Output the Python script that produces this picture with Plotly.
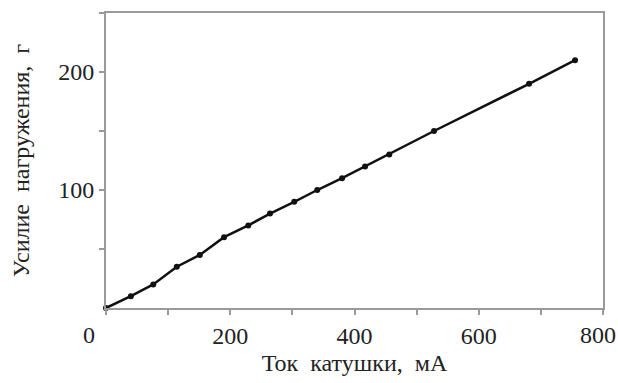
import plotly.graph_objects as go

current_ma = [0, 40, 76, 114, 151, 190, 229, 264, 303, 340, 380, 417, 456, 528, 681, 755]
load_g = [0, 10, 20, 35, 45, 60, 70, 80, 90, 100, 110, 120, 130, 150, 190, 210]

x_tick_positions = [0, 100, 200, 300, 400, 500, 600, 700, 800]
x_ticktext = ["", "", "200", "", "400", "", "600", "", ""]
y_tick_positions = [50, 100, 150, 200, 250]
y_ticktext = ["", "100", "", "200", ""]
# end labels drawn as annotations (offset like in the original figure)
edge_labels = [(0, "0", -17), (800, "800", -5)]

FONT = "Liberation Serif, Times New Roman, serif"
TXT = "#222222"

fig = go.Figure()
fig.add_trace(go.Scatter(
    x=current_ma, y=load_g, mode="lines+markers",
    line=dict(color="#111111", width=2.5),
    marker=dict(color="#111111", size=6),
    showlegend=False, cliponaxis=False,
))

axis_common = dict(
    showgrid=False, zeroline=False, showline=True, linecolor="#9a9a9a",
    linewidth=2, mirror=True, ticks="outside", tickcolor="#9a9a9a",
    ticklen=5, tickwidth=1.5, automargin=False, ticklabeloverflow="allow",
    tickfont=dict(family=FONT, size=24, color=TXT),
)

fig.update_xaxes(range=[0, 800], tickvals=x_tick_positions, ticktext=x_ticktext,
                 title=dict(text="Ток  катушки,  мА", font=dict(family=FONT, size=24, color=TXT), standoff=6),
                 **axis_common)
fig.update_yaxes(range=[0, 250], tickvals=y_tick_positions, ticktext=y_ticktext,
                 title=dict(text="Усилие  нагружения,  г", font=dict(family=FONT, size=24, color=TXT), standoff=22),
                 **axis_common)

for xv, txt, dx in edge_labels:
    fig.add_annotation(x=xv, y=0, xref="x", yref="y", text=txt, showarrow=False,
                       xshift=dx, yshift=-27, font=dict(family=FONT, size=24, color=TXT))

fig.update_layout(
    width=618, height=383, autosize=False,
    font=dict(family=FONT, size=24, color=TXT),
    margin=dict(l=106, r=15, t=13, b=75, autoexpand=False),
    paper_bgcolor="white", plot_bgcolor="white",
)

fig.write_html("out.html", config={"responsive": False, "displayModeBar": False},
               post_script="document.body.style.margin='0';document.body.style.overflow='hidden';")
